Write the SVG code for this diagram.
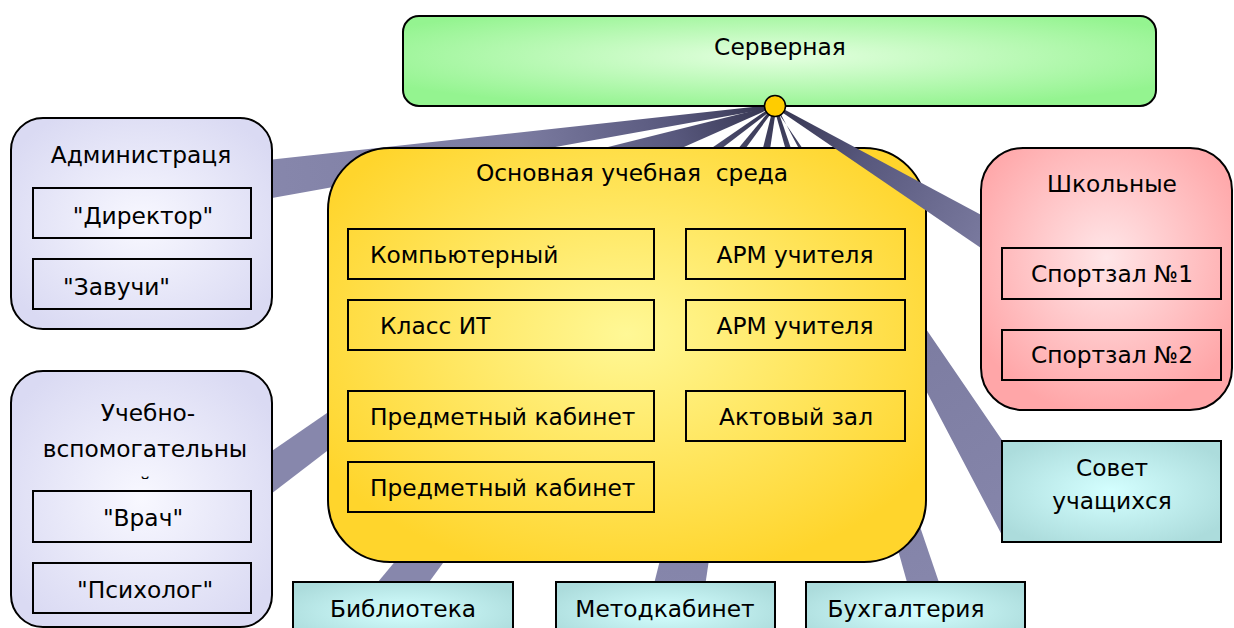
<svg xmlns="http://www.w3.org/2000/svg" width="1234" height="628" viewBox="0 0 1234 628">
<style>
text{font-family:"DejaVu Sans","Verdana",sans-serif;font-size:23.3px;fill:#000}
.c{text-anchor:middle}
.frame{stroke:#000;stroke-width:2}
.inner{fill:none;stroke:#000;stroke-width:2}
.beam{fill:url(#beamGrad)}
</style>
<defs>
<radialGradient id="beamGrad" gradientUnits="userSpaceOnUse" cx="775" cy="106" r="520">
<stop offset="0" stop-color="#34344f"/>
<stop offset="0.2" stop-color="#58587d"/>
<stop offset="0.5" stop-color="#7c7ca1"/>
<stop offset="1" stop-color="#8787ac"/>
</radialGradient>
<radialGradient id="gGreen" cx="0.5" cy="0.45" r="0.6">
<stop offset="0" stop-color="#e4ffe0"/>
<stop offset="1" stop-color="#94f490"/>
</radialGradient>
<radialGradient id="gLav" cx="0.5" cy="0.5" r="0.6">
<stop offset="0" stop-color="#f8f8ff"/>
<stop offset="1" stop-color="#dadaf3"/>
</radialGradient>
<radialGradient id="gYel" cx="0.5" cy="0.45" r="0.6">
<stop offset="0" stop-color="#fff896"/>
<stop offset="1" stop-color="#ffd52c"/>
</radialGradient>
<radialGradient id="gPink" cx="0.5" cy="0.42" r="0.6">
<stop offset="0" stop-color="#ffe6e8"/>
<stop offset="1" stop-color="#ffa6a8"/>
</radialGradient>
<radialGradient id="gTeal" cx="0.5" cy="0.5" r="0.6">
<stop offset="0" stop-color="#d4ffff"/>
<stop offset="1" stop-color="#acdcdc"/>
</radialGradient>
<clipPath id="clipY">
<rect x="0" y="0" width="300" height="479"/>
</clipPath>
</defs>

<g id="connectors">
<polygon class="beam" points="775,104.5 250,162 250,202 775,107.5"/>
<polygon class="beam" points="776,105 400,199 400,273 774,107"/>
<polygon class="beam" points="775,104.5 250,466 250,510 775,107.5"/>
<polygon class="beam" points="773.5,106 363,600 416,600 776.5,106"/>
<polygon class="beam" points="773.5,106 650,600 703,600 776.5,106"/>
<polygon class="beam" points="773.5,106 912,600 945,600 776.5,106"/>
<polygon class="beam" points="773.5,106 1004,443 1004,539 776.5,106"/>
</g>

<g id="server">
<rect class="frame" x="403" y="16" width="753" height="90" rx="16" fill="url(#gGreen)"/>
<text class="c" x="780" y="55">Серверная</text>
</g>

<g id="admin">
<rect class="frame" x="11" y="118" width="261" height="211" rx="32" fill="url(#gLav)"/>
<text class="c" x="141" y="163">Администраця</text>
<rect class="inner" x="33" y="188" width="218" height="50"/>
<text class="c" x="143" y="224">"Директор"</text>
<rect class="inner" x="33" y="259" width="218" height="50"/>
<text x="63" y="295">"Завучи"</text>
</g>

<g id="support">
<rect class="frame" x="11" y="371" width="261" height="256" rx="32" fill="url(#gLav)"/>
<text class="c" x="148" y="421">Учебно-</text>
<text class="c" x="145" y="457">вспомогательны</text>
<text class="c" x="145" y="494" clip-path="url(#clipY)">й</text>
<rect class="inner" x="33" y="491" width="218" height="51"/>
<text class="c" x="143" y="526">"Врач"</text>
<rect class="inner" x="33" y="563" width="218" height="50"/>
<text x="77" y="598">"Психолог"</text>
</g>

<g id="main">
<rect class="frame" x="328" y="148" width="598" height="414" rx="62" fill="url(#gYel)"/>
<text class="c" x="632" y="181" xml:space="preserve">Основная учебная  среда</text>
<rect class="inner" x="348" y="229" width="306" height="50"/>
<text x="370" y="263">Компьютерный</text>
<rect class="inner" x="348" y="300" width="306" height="50"/>
<text x="380" y="334">Класс ИТ</text>
<rect class="inner" x="348" y="391" width="306" height="50"/>
<text x="370" y="425">Предметный кабинет</text>
<rect class="inner" x="348" y="462" width="306" height="50"/>
<text x="370" y="496">Предметный кабинет</text>
<rect class="inner" x="686" y="229" width="219" height="50"/>
<text class="c" x="795" y="263">АРМ учителя</text>
<rect class="inner" x="686" y="300" width="219" height="50"/>
<text class="c" x="795" y="334">АРМ учителя</text>
<rect class="inner" x="686" y="391" width="219" height="50"/>
<text class="c" x="796" y="425">Актовый зал</text>
</g>

<g id="connectors-top">
<polygon class="beam" points="775,104.5 1000,225 1000,261 775,107.5"/>
</g>

<g id="sport">
<rect class="frame" x="981" y="148" width="251" height="262" rx="42" fill="url(#gPink)"/>
<text class="c" x="1112" y="192">Школьные</text>
<rect class="inner" x="1002" y="248" width="219" height="51"/>
<text class="c" x="1112" y="282">Спортзал №1</text>
<rect class="inner" x="1002" y="330" width="219" height="50"/>
<text class="c" x="1112" y="363">Спортзал №2</text>
</g>

<g id="council">
<rect class="frame" x="1002" y="441" width="219" height="101" fill="url(#gTeal)"/>
<text class="c" x="1112" y="476">Совет</text>
<text class="c" x="1112" y="509">учащихся</text>
</g>

<g id="library">
<rect class="frame" x="293" y="582" width="220" height="60" fill="url(#gTeal)"/>
<text class="c" x="403" y="617">Библиотека</text>
</g>

<g id="methodical">
<rect class="frame" x="556" y="582" width="219" height="60" fill="url(#gTeal)"/>
<text class="c" x="665" y="617">Методкабинет</text>
</g>

<g id="accounting">
<rect class="frame" x="806" y="582" width="219" height="60" fill="url(#gTeal)"/>
<text class="c" x="906" y="617">Бухгалтерия</text>
</g>

<g id="hub">
<circle cx="775" cy="106" r="10.5" fill="#ffcc00" stroke="#000" stroke-width="1.5"/>
</g>
</svg>
